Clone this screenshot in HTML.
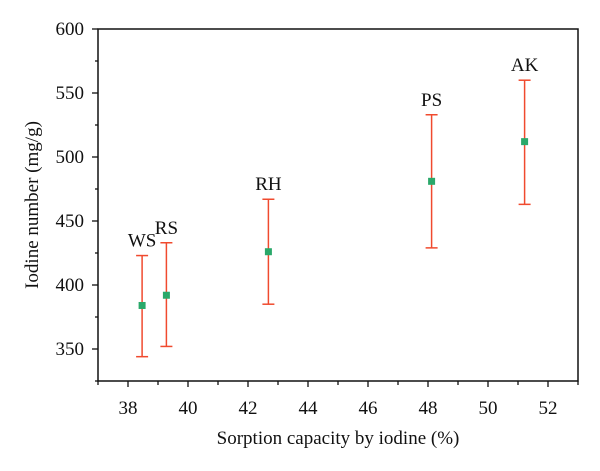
<!DOCTYPE html>
<html><head><meta charset="utf-8"><style>
html,body{margin:0;padding:0;background:#fff;}
svg text{font-family:"Liberation Serif",serif;fill:#111;}
</style></head><body>
<svg id="chart" width="600" height="466" xmlns="http://www.w3.org/2000/svg">
<g id="g"></g>
</svg>
<script>
const categories=["WS","RS","RH","PS","AK"];
const xValues=[38.47,39.28,42.68,48.12,51.22];
const yValues=[384,392,426,481,512];
const yLow=[344,352,385,429,463];
const yHigh=[423,433,467,533,560];
const xTicks=[38,40,42,44,46,48,50,52];
const yTicks=[350,400,450,500,550,600];
const L=98,R=578,T=29,B=381;
const xMin=37,xMax=53,yMin=325,yMax=600;
const sx=v=>L+(v-xMin)/(xMax-xMin)*(R-L);
const sy=v=>B-(v-yMin)/(yMax-yMin)*(B-T);
const g=document.getElementById('g');
const NS="http://www.w3.org/2000/svg";
function mk(t,a){const e=document.createElementNS(NS,t);for(const k in a)e.setAttribute(k,a[k]);g.appendChild(e);return e;}
let e=mk('rect',{x:L,y:T,width:R-L,height:B-T,fill:'none',stroke:'#111','stroke-width':1.5});


for(let v=xMin;v<=xMax;v++){
  const major=xTicks.includes(v);
  e=mk('line',{x1:sx(v),x2:sx(v),y1:B,y2:B+(major?6:4),stroke:'#111','stroke-width':1.3});
  
  
}
xTicks.forEach(v=>{
  e=mk('text',{x:sx(v),y:B+33,'text-anchor':'middle','font-size':19});
  e.textContent=v;
  
  
});
for(let v=yMin;v<=yMax;v+=25){
  const major=yTicks.includes(v);
  e=mk('line',{x1:L,x2:L-(major?6:3),y1:sy(v),y2:sy(v),stroke:'#111','stroke-width':1.3});
  
  
}
yTicks.forEach(v=>{
  e=mk('text',{x:L-14,y:sy(v)+6,'text-anchor':'end','font-size':19});
  e.textContent=v;
  
  
});
e=mk('text',{x:338,y:444,'text-anchor':'middle','font-size':19});
e.textContent='Sorption capacity by iodine (%)';


e=mk('text',{x:0,y:0,'text-anchor':'middle','font-size':19,transform:'translate(38,205) rotate(-90)'});
e.textContent='Iodine number (mg/g)';


categories.forEach((c,i)=>{
  const x=sx(xValues[i]);
  const col='#f04a2e';
  e=mk('line',{x1:x,x2:x,y1:sy(yHigh[i]),y2:sy(yLow[i]),stroke:col,'stroke-width':1.5});
  
  
  [yHigh[i],yLow[i]].forEach(v=>{
    e=mk('line',{x1:x-6,x2:x+6,y1:sy(v),y2:sy(v),stroke:col,'stroke-width':1.5});
    
    
  });
  e=mk('rect',{x:x-3.5,y:sy(yValues[i])-3.5,width:7,height:7,fill:'#2aa86a'});
  
  
  e=mk('text',{x:x,y:sy(yHigh[i])-9,'text-anchor':'middle','font-size':19});
  e.textContent=c;
  
  
});
</script>
</body></html>
